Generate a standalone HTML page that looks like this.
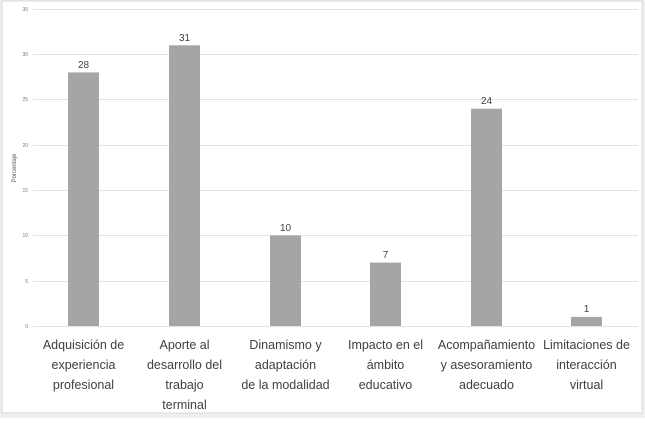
<!DOCTYPE html>
<html><head><meta charset="utf-8"><style>
html,body{margin:0;padding:0;background:#fff;}
body{width:645px;height:418px;overflow:hidden;font-family:"Liberation Sans",sans-serif;}
</style></head><body>
<svg width="645" height="418" xmlns="http://www.w3.org/2000/svg" font-family="Liberation Sans, sans-serif">
<rect x="0" y="0" width="645" height="418" fill="#eeeeee"/>
<rect x="2" y="1" width="640" height="412" fill="#ffffff" stroke="#d9d9d9"/>
<g stroke="#e3e3e3" stroke-width="1">
<line x1="33" x2="638" y1="9.5" y2="9.5"/>
<line x1="33" x2="638" y1="54.5" y2="54.5"/>
<line x1="33" x2="638" y1="99.5" y2="99.5"/>
<line x1="33" x2="638" y1="145.5" y2="145.5"/>
<line x1="33" x2="638" y1="190.5" y2="190.5"/>
<line x1="33" x2="638" y1="235.5" y2="235.5"/>
<line x1="33" x2="638" y1="281.5" y2="281.5"/>
<line x1="33" x2="638" y1="326.5" y2="326.5"/>
</g>
<g font-size="5" fill="#777" text-anchor="end">
<text x="28" y="11">35</text><text x="28" y="56">30</text><text x="28" y="101">25</text>
<text x="28" y="147">20</text><text x="28" y="192">15</text><text x="28" y="237">10</text>
<text x="28" y="283">5</text><text x="28" y="328">0</text>
</g>
<text transform="translate(16,168) rotate(-90)" font-size="6" fill="#555" text-anchor="middle">Porcentaje</text>
<g fill="#a5a5a5">
<rect x="68" y="72.4" width="31" height="253.6"/>
<rect x="169" y="45.3" width="31" height="280.7"/>
<rect x="270" y="235.4" width="31" height="90.6"/>
<rect x="370" y="262.6" width="31" height="63.4"/>
<rect x="471" y="108.7" width="31" height="217.3"/>
<rect x="571" y="316.9" width="31" height="9.1"/>
</g>
<g font-size="10" fill="#404040" text-anchor="middle">
<text x="83.5" y="68">28</text><text x="184.5" y="41">31</text><text x="285.5" y="231">10</text>
<text x="385.5" y="258">7</text><text x="486.5" y="104">24</text><text x="586.5" y="312">1</text>
</g>
<g font-size="12.5" fill="#404040" text-anchor="middle">
<text x="83.5" y="349">Adquisición de</text><text x="83.5" y="369">experiencia</text><text x="83.5" y="389">profesional</text>
<text x="184.5" y="349">Aporte al</text><text x="184.5" y="369">desarrollo del</text><text x="184.5" y="389">trabajo</text><text x="184.5" y="409">terminal</text>
<text x="285.5" y="349">Dinamismo y</text><text x="285.5" y="369">adaptación</text><text x="285.5" y="389">de la modalidad</text>
<text x="385.5" y="349">Impacto en el</text><text x="385.5" y="369">ámbito</text><text x="385.5" y="389">educativo</text>
<text x="486.5" y="349">Acompañamiento</text><text x="486.5" y="369">y asesoramiento</text><text x="486.5" y="389">adecuado</text>
<text x="586.5" y="349">Limitaciones de</text><text x="586.5" y="369">interacción</text><text x="586.5" y="389">virtual</text>
</g>
</svg>
</body></html>
